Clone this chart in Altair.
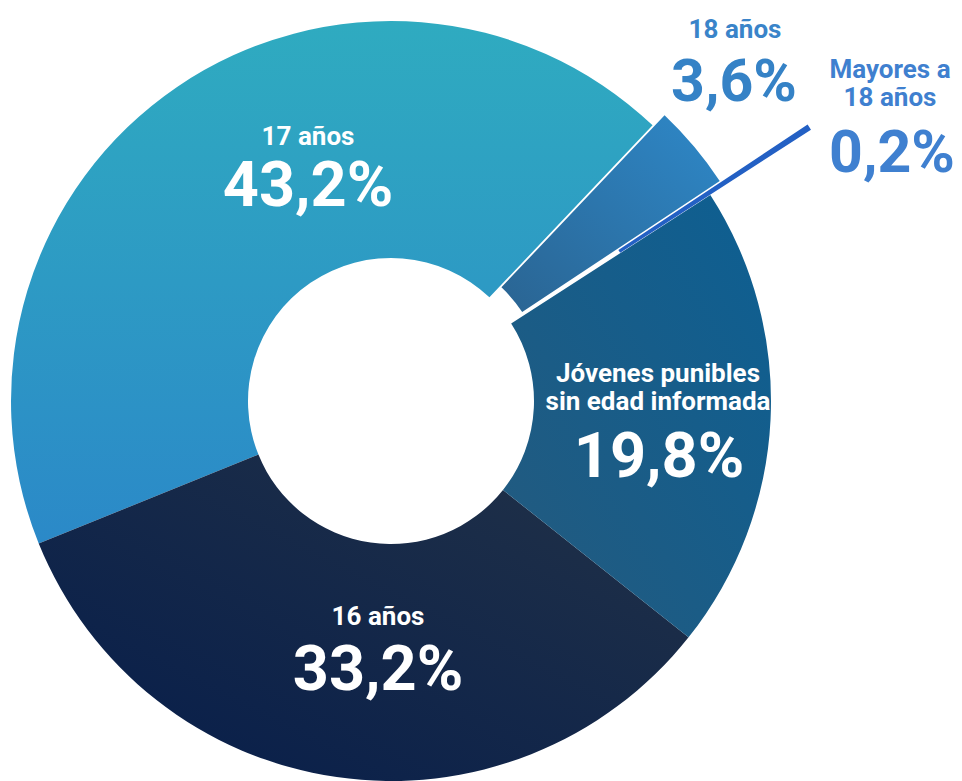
import math
import altair as alt

# ---- data ----
categories = ["18 años", "Mayores a 18 años", "Jóvenes punibles sin edad informada", "16 años", "17 años"]
values = [3.6, 0.2, 19.8, 33.2, 43.2]
name_lines = [["18 años"], ["Mayores a", "18 años"], ["Jóvenes punibles", "sin edad informada"], ["16 años"], ["17 años"]]
pct_labels = [f"{v:.1f}".replace(".", ",") + "%" for v in values]

records = [
    {"cat": c, "value": v, "order": i, "name": n, "pct": p}
    for i, (c, v, n, p) in enumerate(zip(categories, values, name_lines, pct_labels))
]
data = alt.Data(values=records)

START = math.radians(43.5)
theta_scale = alt.Scale(domain=[0, 100], range=[START, START + 2 * math.pi])

base = alt.Chart(data).transform_stack(
    stack="value", groupby=[], as_=["v0", "v1"], sort=[alt.SortField("order", order="ascending")]
)

CX, CY = 383, 393
R_IN, R_OUT = 143, 380


def grad(c0, c1, x1, y1, x2, y2):
    return alt.LinearGradient(
        gradient="linear",
        stops=[alt.GradientStop(color=c0, offset=0), alt.GradientStop(color=c1, offset=1)],
        x1=x1, y1=y1, x2=x2, y2=y2,
    )


def arc_layer(cat, fill, cx, cy, r0, r1):
    return base.transform_filter(alt.datum.cat == cat).mark_arc(
        fill=fill, innerRadius=r0, outerRadius=r1
    ).encode(
        theta=alt.Theta("v0:Q", scale=theta_scale),
        theta2="v1:Q",
        x=alt.value(cx),
        y=alt.value(cy),
    )


def text_layer(cat, field, x, y, size, color, line_height=28):
    return base.transform_filter(alt.datum.cat == cat).mark_text(
        x=x, y=y, align="center", baseline="alphabetic", font="Roboto",
        fontWeight="bold", fontSize=size, color=color, lineHeight=line_height,
    ).encode(text=alt.Text(f"{field}:N"))


layers = [
    arc_layer("17 años", grad("#2fabc0", "#2b89c8", 0, 0, 0, 1), CX, CY, R_IN, R_OUT),
    arc_layer("16 años", grad("#061d4b", "#223247", 0, 1, 1, 0), CX, CY, R_IN, R_OUT),
    arc_layer("Jóvenes punibles sin edad informada", grad("#0d5f92", "#245a7e", 1, 0, 0, 1), CX, CY, R_IN, R_OUT),
    arc_layer("18 años", grad("#2e88c8", "#2a6492", 1, 0, 0, 1), CX + 12, CY - 10, R_IN, R_OUT),
    arc_layer("Mayores a 18 años", "#2360c4", CX + 4, CY - 3, 268, 495),
    # labels
    text_layer("17 años", "name", 300, 137, 26, "white"),
    text_layer("17 años", "pct", 300, 198, 63, "white"),
    text_layer("16 años", "name", 370, 617, 26, "white"),
    text_layer("16 años", "pct", 370, 682, 63, "white"),
    text_layer("Jóvenes punibles sin edad informada", "name", 650, 374, 26, "white"),
    text_layer("Jóvenes punibles sin edad informada", "pct", 651, 469, 63, "white"),
    text_layer("18 años", "name", 727, 30, 26, "#3a84c9"),
    text_layer("18 años", "pct", 726, 93, 59, "#3582c6"),
    text_layer("Mayores a 18 años", "name", 882, 70, 26, "#3f80cf", 28),
    text_layer("Mayores a 18 años", "pct", 884, 164, 59, "#3f80d0"),
]

chart = alt.layer(*layers).properties(
    width=946, height=773, padding=0, autosize=alt.AutoSizeParams(type="none")
).configure_view(stroke=None)

chart.save("out.html", embed_options={"renderer": "svg", "actions": False})
